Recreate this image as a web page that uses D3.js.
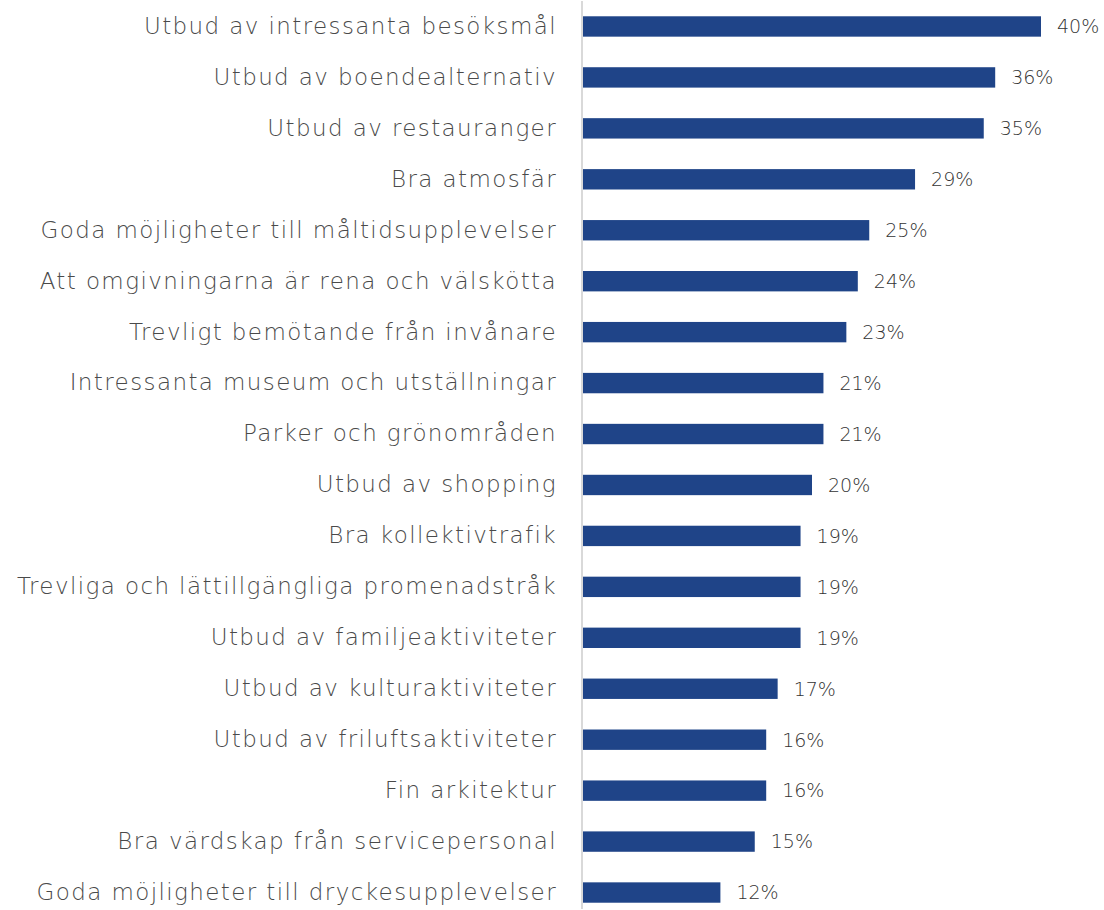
<!DOCTYPE html>
<html>
<head>
<meta charset="utf-8">
<script src="https://cdn.jsdelivr.net/npm/d3@7"></script>
<style>
  body { margin: 0; background: #fff; }
  svg { display: block; }
</style>
</head>
<body>
<div id="chart"></div>
<script>
var categories = [
  "Utbud av intressanta besöksmål",
  "Utbud av boendealternativ",
  "Utbud av restauranger",
  "Bra atmosfär",
  "Goda möjligheter till måltidsupplevelser",
  "Att omgivningarna är rena och välskötta",
  "Trevligt bemötande från invånare",
  "Intressanta museum och utställningar",
  "Parker och grönområden",
  "Utbud av shopping",
  "Bra kollektivtrafik",
  "Trevliga och lättillgängliga promenadstråk",
  "Utbud av familjeaktiviteter",
  "Utbud av kulturaktiviteter",
  "Utbud av friluftsaktiviteter",
  "Fin arkitektur",
  "Bra värdskap från servicepersonal",
  "Goda möjligheter till dryckesupplevelser"
];
var values = [40, 36, 35, 29, 25, 24, 23, 21, 21, 20, 19, 19, 19, 17, 16, 16, 15, 12];

var width = 1104, height = 910;
var axis_x = 583;

var data = categories.map(function(c, i) { return {name: c, value: values[i]}; });

var svg = d3.select("#chart").append("svg")
  .attr("width", width)
  .attr("height", height);

var x = d3.scaleLinear().domain([0, 40]).range([axis_x, 1041]);
var y = d3.scaleBand().domain(categories).range([1, 918])
  .paddingInner(0.6).paddingOuter(0.3);

// bars
svg.selectAll("rect.bar")
  .data(data)
  .enter().append("rect")
  .attr("class", "bar")
  .attr("x", x(0))
  .attr("y", function(d) { return y(d.name); })
  .attr("width", function(d) { return x(d.value) - x(0); })
  .attr("height", y.bandwidth())
  .attr("fill", "#1f4488");

// category axis (no ticks, just labels + line)
var yAxis = d3.axisLeft(y).tickSize(0).tickPadding(25);
var g = svg.append("g")
  .attr("transform", "translate(" + (axis_x - 1) + ",0)")
  .call(yAxis);
g.select(".domain").remove();
g.selectAll("text")
  .attr("fill", "#4a4a4a")
  .style("font-family", "'DejaVu Sans', sans-serif")
  .style("font-weight", "200")
  .style("letter-spacing", "1.4px")
  .style("font-size", "23px");

svg.append("line")
  .attr("x1", axis_x - 1).attr("x2", axis_x - 1)
  .attr("y1", 1).attr("y2", 909)
  .attr("stroke", "#d9d9d9")
  .attr("stroke-width", 2);

// value labels
svg.selectAll("text.val")
  .data(data)
  .enter().append("text")
  .attr("class", "val")
  .attr("x", function(d) { return x(d.value) + 16; })
  .attr("y", function(d) { return y(d.name) + y.bandwidth() / 2; })
  .attr("dy", "0.36em")
  .attr("fill", "#333333")
  .style("font-family", "'DejaVu Sans', sans-serif")
  .style("font-weight", "200")
  .style("font-size", "19px")
  .text(function(d) { return d.value + "%"; });
</script>
</body>
</html>
